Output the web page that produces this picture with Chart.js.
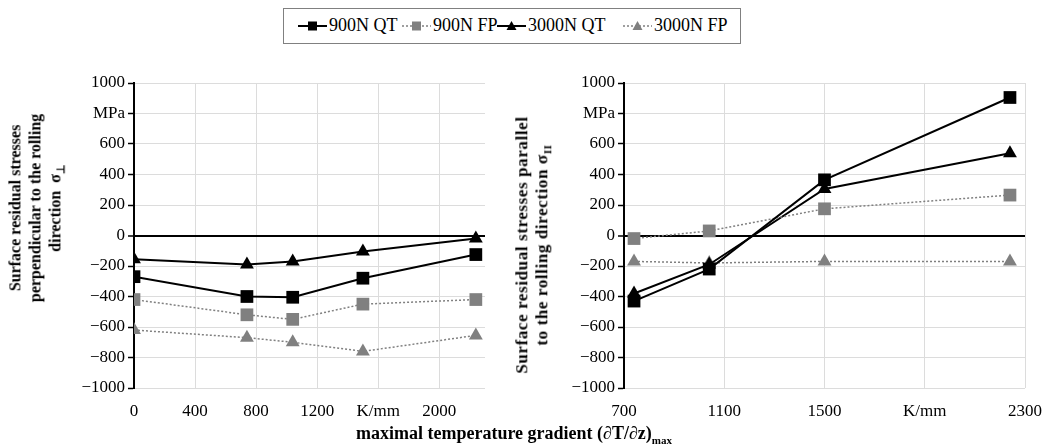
<!DOCTYPE html>
<html>
<head>
<meta charset="utf-8">
<script src="https://cdn.jsdelivr.net/npm/chart.js@4.4.0/dist/chart.umd.min.js"></script>
<style>
  body { margin: 0; background: #fff; font-family: 'Liberation Serif', serif; color: #000; }
  #wrap { position: relative; width: 1055px; height: 445px; overflow: hidden; }
  canvas { position: absolute; }
  #legend {
    position: absolute; left: 283px; top: 8px; width: 456px; height: 34px;
    border: 1px solid #808080; font-size: 18px;
  }
  #legend .item { position: absolute; top: 6px; display: flex; align-items: center; white-space: nowrap; }
  #legend svg { margin-right: 2px; }
  .ytitle {
    position: absolute; font-weight: bold; line-height: 20px;
    text-align: center; white-space: nowrap; transform: translate(-50%, -50%) rotate(-90deg);
  }
  .ytitle sub, #xtitle sub { font-size: 11px; }
  #xtitle {
    position: absolute; left: 514px; top: 423px; transform: translateX(-50%);
    font-weight: bold; font-size: 18px; white-space: nowrap;
  }
</style>
</head>
<body>
<div id="wrap">
  <div id="legend"></div>
  <canvas id="leftChart" width="500" height="365" style="left:0;top:60px"></canvas>
  <canvas id="rightChart" width="555" height="365" style="left:500px;top:60px"></canvas>
  <div class="ytitle" style="left:38px;top:208px;font-size:16px">Surface residual stresses<br>perpendicular to the rolling<br>direction&nbsp; σ<sub>⊥</sub></div>
  <div class="ytitle" style="left:535px;top:245px;font-size:17px;letter-spacing:0.6px">Surface residual stresses parallel<br>to the rolling direction σ<sub>II</sub></div>
  <div id="xtitle">maximal temperature gradient (∂T/∂z)<sub>max</sub></div>
</div>
<script>
// data
var seriesNames = ['900N QT', '900N FP', '3000N QT', '3000N FP']

// left: perpendicular to rolling direction
var gradLeft = [0, 740, 1040, 1500, 2240]
var qt900Left = [-270, -400, -405, -280, -125]
var fp900Left = [-420, -520, -550, -450, -420]
var qt3000Left = [-155, -190, -170, -105, -20]
var fp3000Left = [-620, -670, -700, -760, -655]

// right: parallel to rolling direction
var gradRight = [740, 1040, 1500, 2240]
var qt900Right = [-430, -220, 365, 905]
var fp900Right = [-20, 30, 175, 265]
var qt3000Right = [-380, -190, 305, 540]
var fp3000Right = [-170, -180, -170, -170]

// ticks and their labels
var yTicks = [-1000, -800, -600, -400, -200, 0, 200, 400, 600, 800, 1000]
var yLabels = ['\u22121000', '\u2212800', '\u2212600', '\u2212400', '\u2212200', '0', '200', '400', '600', 'MPa', '1000']
var leftXTicks = [0, 400, 800, 1200, 1600, 2000]
var leftXLabels = ['0', '400', '800', '1200', 'K/mm', '2000']
var rightXTicks = [700, 1100, 1500, 1900, 2300]
var rightXLabels = ['700', '1100', '1500', 'K/mm', '2300']

Chart.defaults.font.family = "'Liberation Serif', serif"
Chart.defaults.font.size = 17
Chart.defaults.color = '#000'

function pts(xs, ys) {
  return xs.map(function (x, i) { return { x: x, y: ys[i] } })
}

function makeSets(xs, qt900, fp900, qt3000, fp3000) {
  return [
    { label: seriesNames[0], data: pts(xs, qt900), borderColor: '#000', backgroundColor: '#000',
      borderWidth: 2, pointStyle: 'rect', pointRadius: 9, pointBorderWidth: 0 },
    { label: seriesNames[1], data: pts(xs, fp900), borderColor: '#808080', backgroundColor: '#808080',
      borderWidth: 1.5, borderDash: [2, 2], pointStyle: 'rect', pointRadius: 9, pointBorderWidth: 0 },
    { label: seriesNames[2], data: pts(xs, qt3000), borderColor: '#000', backgroundColor: '#000',
      borderWidth: 2, pointStyle: 'triangle', pointRadius: 8, pointBorderWidth: 0 },
    { label: seriesNames[3], data: pts(xs, fp3000), borderColor: '#808080', backgroundColor: '#808080',
      borderWidth: 1.5, borderDash: [2, 2], pointStyle: 'triangle', pointRadius: 8, pointBorderWidth: 0 }
  ]
}

function setTicks(values) {
  return function (s) { s.ticks = values.map(function (v) { return { value: v } }) }
}

function yScale(width) {
  return {
    min: -1000, max: 1000,
    afterBuildTicks: setTicks(yTicks),
    afterFit: function (s) { s.width = width },
    ticks: {
      padding: 3,
      callback: function (v, i) { return yLabels[i] }
    },
    grid: {
      color: function (c) { return c.tick && c.tick.value === 0 ? '#000' : '#dcdcdc' },
      lineWidth: function (c) { return c.tick && c.tick.value === 0 ? 2 : 1 },
      tickColor: '#000', tickLength: 6, tickWidth: 1.5
    },
    border: { display: true, color: '#000', width: 2 }
  }
}

function xScale(min, max, values, labels) {
  return {
    type: 'linear', min: min, max: max,
    afterBuildTicks: setTicks(values),
    afterFit: function (s) { s.height = 37 },
    ticks: {
      autoSkip: false, maxRotation: 0, padding: 13,
      callback: function (v, i) { return labels[i] }
    },
    grid: { drawTicks: false, color: '#dcdcdc' },
    border: { display: false }
  }
}

function makeChart(id, sets, xs, yWidth, padRight) {
  return new Chart(document.getElementById(id), {
    type: 'line',
    data: { datasets: sets },
    options: {
      responsive: false, animation: false, devicePixelRatio: 1,
      layout: { padding: { top: 23, right: padRight, left: 0, bottom: 0 } },
      plugins: { legend: { display: false }, tooltip: { enabled: false } },
      scales: { x: xs, y: yScale(yWidth) }
    }
  })
}

makeChart('leftChart', makeSets(gradLeft, qt900Left, fp900Left, qt3000Left, fp3000Left),
  xScale(0, 2300, leftXTicks, leftXLabels), 134, 15)
makeChart('rightChart', makeSets(gradRight, qt900Right, fp900Right, qt3000Right, fp3000Right),
  xScale(700, 2300, rightXTicks, rightXLabels), 124, 20)

// shared legend, items placed like the original
var legendLeft = [14, 118, 213, 339]
var legendMarks = [
  { color: '#000', dash: '', shape: 'rect' },
  { color: '#808080', dash: '2,2', shape: 'rect' },
  { color: '#000', dash: '', shape: 'tri' },
  { color: '#808080', dash: '2,2', shape: 'tri' }
]
var legendHtml = ''
seriesNames.forEach(function (name, i) {
  var m = legendMarks[i]
  var mark = m.shape === 'rect'
    ? '<rect x="10" y="2.5" width="9" height="9" fill="' + m.color + '"/>'
    : '<polygon points="14.5,2 19.5,11 9.5,11" fill="' + m.color + '"/>'
  legendHtml += '<span class="item" style="left:' + legendLeft[i] + 'px"><svg width="29" height="14">' +
    '<line x1="0" y1="7" x2="29" y2="7" stroke="' + m.color + '" stroke-width="' + (m.dash ? 1.5 : 2) + '"' +
    (m.dash ? ' stroke-dasharray="' + m.dash + '"' : '') + '/>' + mark + '</svg>' + name + '</span>'
})
document.getElementById('legend').innerHTML = legendHtml
</script>
</body>
</html>
